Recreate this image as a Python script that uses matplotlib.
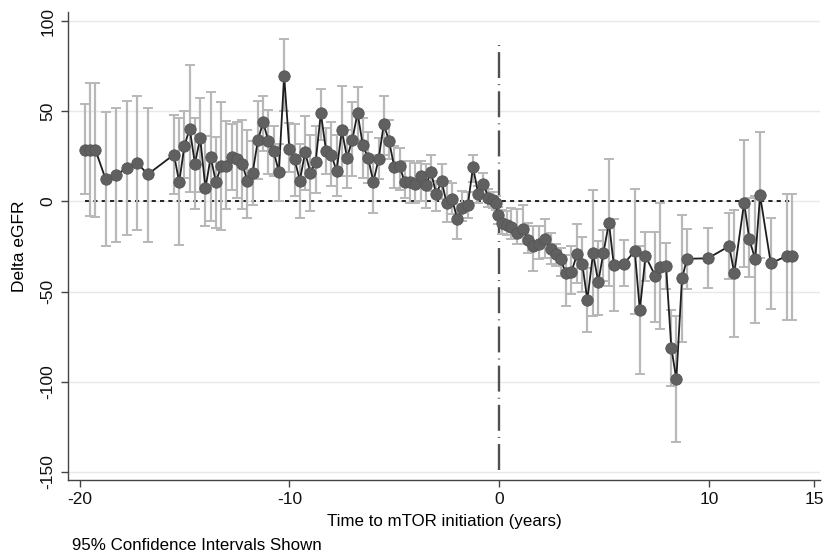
import matplotlib
matplotlib.use("Agg")
import matplotlib.pyplot as plt
import numpy as np

# time to mTOR initiation (years)
years = [-19.75, -19.5, -19.25, -18.75, -18.25, -17.75, -17.25, -16.75,
         -15.5, -15.25, -15.0, -14.75, -14.5, -14.25, -14.0, -13.75, -13.5,
         -13.25, -13.0, -12.75, -12.5, -12.25, -12.0, -11.75, -11.5, -11.25,
         -11.0, -10.75, -10.5, -10.25, -10.0, -9.75, -9.5, -9.25, -9.0, -8.75,
         -8.5, -8.25, -8.0, -7.75, -7.5, -7.25, -7.0, -6.75, -6.5, -6.25,
         -6.0, -5.75, -5.5, -5.25, -5.0, -4.75, -4.5, -4.25, -4.0, -3.75,
         -3.5, -3.25, -3.0, -2.75, -2.5, -2.25, -2.0, -1.75, -1.5, -1.25,
         -1.0, -0.75, -0.52, -0.32, -0.13, -0.08, 0.13, 0.35, 0.58, 0.84,
         1.14, 1.39, 1.63, 1.9, 2.19, 2.46, 2.69, 2.93, 3.17, 3.44, 3.72,
         3.96, 4.2, 4.47, 4.72, 4.96, 5.23, 5.46, 5.95, 6.46, 6.7, 6.97,
         7.44, 7.68, 7.95, 8.2, 8.44, 8.71, 8.95, 9.94, 10.96, 11.2, 11.67,
         11.92, 12.2, 12.43, 12.94, 13.7, 13.93]

# delta eGFR estimate
delta = [28.8, 28.8, 28.8, 12.2, 14.6, 18.7, 21.4, 15.0,
         26.0, 10.7, 31.0, 40.4, 20.9, 35.3, 7.2, 24.7, 10.7,
         19.6, 19.9, 24.7, 23.3, 21.0, 11.3, 15.9, 34.0, 44.0,
         33.4, 27.9, 16.3, 69.8, 29.2, 23.3, 11.6, 27.3, 16.0, 21.8,
         49.1, 27.9, 26.0, 16.8, 39.5, 24.2, 34.3, 49.1, 31.2, 24.2,
         10.9, 23.3, 43.0, 33.4, 19.2, 19.6, 10.7, 10.7, 9.4, 14.0,
         8.9, 16.2, 3.9, 11.3, -1.1, 1.5, -9.6, -3.5, -2.2, 19.0,
         4.3, 9.8, 2.0, 0.7, -1.1, -7.8, -12.2, -13.1, -14.2, -17.4,
         -15.5, -21.6, -24.8, -23.8, -20.7, -26.6, -29.4, -32.1, -39.9, -39.1, -29.0,
         -34.9, -54.7, -28.8, -44.7, -28.8, -11.8, -35.3, -34.5, -27.5, -60.4, -30.3,
         -41.4, -36.4, -35.8, -81.1, -98.7, -42.7, -31.8, -31.6, -24.8, -39.9, -0.7,
         -21.1, -32.1, 3.3, -34.3, -30.3, -30.3]

# 95% CI lower bound
ci_lo = [3.9, -8.0, -8.4, -25.0, -22.5, -18.8, -15.9, -22.5,
         4.2, -24.4, 13.0, 5.2, -4.4, 5.2, -13.7, -10.9, -14.6,
         -16.0, -4.4, 6.6, 2.0, -4.4, -9.0, -2.2, 12.2, 27.9,
         15.0, 14.0, 0.2, 50.0, 16.3, 2.9, -9.4, 6.6, -5.4, 4.8,
         34.3, 15.0, 8.5, 3.0, 14.0, 7.6, 14.0, 34.3, 13.0, 10.3,
         -6.6, 12.2, 26.0, 23.3, 7.6, 6.6, 2.0, -0.7, -0.7, 0.2,
         -3.5, 5.8, -5.4, 1.1, -11.4, -7.0, -20.7, -10.9, -9.0, 11.0,
         -0.7, 3.0, -3.0, -3.5, -5.0, -12.5, -18.0, -18.8, -21.0, -23.8,
         -23.8, -28.4, -38.6, -32.1, -31.3, -34.9, -35.8, -41.4, -58.0, -51.5, -45.0,
         -50.0, -72.7, -63.5, -63.0, -44.0, -46.9, -60.8, -47.2, -62.6, -95.5, -44.0,
         -66.9, -70.9, -48.7, -102.3, -133.7, -77.9, -48.7, -47.8, -43.2, -75.2, -36.2,
         -41.7, -67.2, -31.2, -59.8, -65.8, -65.8]

# 95% CI upper bound
ci_hi = [54.0, 66.0, 65.7, 49.5, 52.0, 55.6, 58.7, 52.0,
         48.2, 46.4, 50.4, 75.9, 46.4, 57.4, 36.2, 60.6, 35.8,
         55.0, 44.9, 42.7, 44.0, 45.0, 39.9, 33.4, 55.6, 58.3,
         51.0, 41.7, 32.1, 90.0, 43.6, 43.0, 32.1, 47.3, 36.6, 41.7,
         62.4, 40.8, 43.9, 36.6, 64.3, 39.9, 55.0, 63.3, 46.4, 38.4,
         26.0, 35.3, 58.7, 45.4, 31.0, 29.7, 22.3, 22.3, 21.4, 22.7,
         20.5, 25.5, 11.3, 21.0, 11.3, 10.0, -1.7, 5.8, 5.2, 26.0,
         8.5, 15.9, 7.0, 5.0, 3.0, -3.0, -5.0, -5.4, -3.5, -4.4,
         -2.2, -11.8, -13.6, -13.6, -9.6, -17.7, -23.8, -25.6, -29.9, -24.7, -12.7,
         -20.0, -37.0, 6.3, -22.0, -16.0, 23.3, -9.9, -21.6, 7.0, -25.0, -16.9,
         -16.9, -1.1, -22.9, -60.2, -63.5, -7.8, -15.1, -14.6, -6.6, -4.9, 34.3,
         2.0, 3.0, 38.6, -9.0, 4.3, 4.3]

x = np.array(years)
y = np.array(delta)
lo = np.array(ci_lo)
hi = np.array(ci_hi)

plt.rcParams['font.family'] = ['Liberation Sans', 'DejaVu Sans']
plt.rcParams['axes.unicode_minus'] = False

fig = plt.figure(figsize=(8.24, 5.56), dpi=100)
ax = fig.add_axes([0.0825, 0.137, 0.913, 0.841])

# grid lines
for t in [-150, -100, -50, 0, 50, 100]:
    ax.axhline(t, color='#e8e8e8', lw=1.0, zorder=0)

# reference lines
ax.hlines(0, x[0], x[-1], colors='black', linestyles=(0, (2.5, 2.5)), lw=1.2, zorder=1)
ax.vlines(0, -149, 89, colors='#505050', linestyles=(0, (11, 2.6, 0.4, 2.6)), lw=1.7, zorder=1)

# confidence intervals
ax.errorbar(x, y, yerr=[y - lo, hi - y], fmt='none', ecolor='#b8b8b8',
            elinewidth=1.6, capsize=3.5, capthick=1.4, zorder=2)

# estimates
ax.plot(x, y, color='#1e1e1e', lw=1.3, zorder=3)
ax.plot(x, y, 'o', color='#606060', markersize=8.2, markeredgecolor='#555555',
        markeredgewidth=0.6, zorder=4)

ax.set_xlim(-20.55, 15.3)
ax.set_ylim(-154.5, 105)
ax.set_xticks([-20, -10, 0, 10, 15])
ax.set_yticks([-150, -100, -50, 0, 50, 100])
ax.set_yticklabels(['-150', '-100', '-50', '0', '50', '100'], rotation=90, va='center')

for side in ['top', 'right']:
    ax.spines[side].set_visible(False)
for side in ['left', 'bottom']:
    ax.spines[side].set_color('#444444')
    ax.spines[side].set_linewidth(1.0)
ax.tick_params(direction='out', length=5, width=1.0, color='#444444',
               labelsize=12.5, labelcolor='#111111', pad=4)

ax.set_xlabel('Time to mTOR initiation (years)', fontsize=12.2, labelpad=5)
ax.set_ylabel('Delta eGFR', fontsize=12.5, labelpad=10)

fig.text(0.087, 0.011, '95% Confidence Intervals Shown', fontsize=12.2,
         ha='left', va='baseline')

fig.savefig('out.png', dpi=100)
